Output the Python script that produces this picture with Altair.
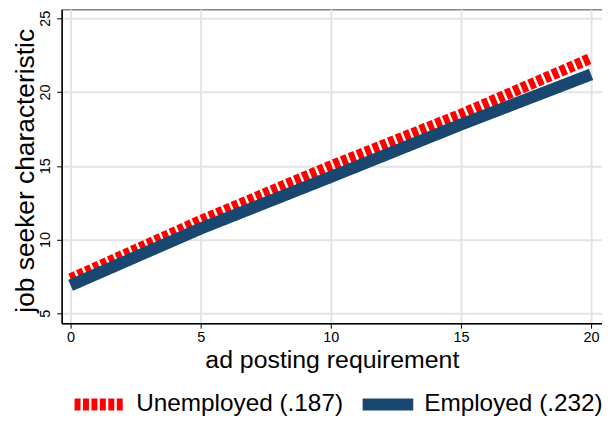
import altair as alt
import pandas as pd

x_vals = [0, 5, 10, 15, 20]
unemployed = [7.35, 11.3, 15.0, 18.5, 22.3]
employed = [6.9, 10.75, 14.25, 17.8, 21.2]
series_names = ["Unemployed (.187)", "Employed (.232)"]
x_ticks = [0, 5, 10, 15, 20]
y_ticks = [5, 10, 15, 20, 25]

df_u = pd.DataFrame({"x": x_vals, "y": unemployed, "series": series_names[0]})
df_e = pd.DataFrame({"x": x_vals, "y": employed, "series": series_names[1]})

FONT = "Liberation Sans"

xs = alt.Scale(domain=[-0.344, 20.42], nice=False, zero=False)
ys = alt.Scale(domain=[4.33, 25.61], nice=False, zero=False)

legend = alt.Legend(
    title=None,
    orient="none",
    legendX=7,
    legendY=366,
    direction="horizontal",
    symbolType="stroke",
    symbolSize=2601,
    symbolStrokeWidth=12,
    labelFontSize=24.5,
    labelFont=FONT,
    labelColor="#000000",
    labelOffset=5,
    columnPadding=-5,
    padding=0,
    labelLimit=400,
)

color = alt.Color(
    "series:N",
    scale=alt.Scale(domain=series_names, range=["#ff0000", "#1a476f"]),
    legend=legend,
)
dash = alt.StrokeDash(
    "series:N",
    scale=alt.Scale(domain=series_names, range=[[6, 2.5], [1, 0]]),
    legend=legend,
)

x_enc = alt.X(
    "x:Q",
    scale=xs,
    axis=alt.Axis(
        values=x_ticks,
        title="ad posting requirement",
        titleFontSize=25,
        titleFont=FONT,
        titleFontWeight="normal",
        titleColor="#000000",
        titleBaseline="alphabetic",
        titleY=45,
        labelFontSize=14.5,
        labelFont=FONT,
        labelColor="#000000",
        labelPadding=2,
        tickSize=5,
        tickColor="#000000",
        domainColor="#000000",
        domainWidth=1.5,
        gridColor="#e3e3e3",
        gridWidth=2,
    ),
)
y_enc = alt.Y(
    "y:Q",
    scale=ys,
    axis=alt.Axis(
        values=y_ticks,
        title="job seeker characteristic",
        titleFontSize=26.5,
        titleFont=FONT,
        titleFontWeight="normal",
        titleColor="#000000",
        titleAngle=270,
        titleAlign="center",
        titleBaseline="alphabetic",
        titleX=-28,
        titleY=162,
        labelFontSize=14.5,
        labelFont=FONT,
        labelColor="#000000",
        labelAngle=270,
        labelAlign="center",
        labelBaseline="bottom",
        labelPadding=4,
        tickSize=5,
        tickColor="#000000",
        domainColor="#000000",
        domainWidth=1.5,
        gridColor="#e3e3e3",
        gridWidth=2,
    ),
)

line_u = alt.Chart(df_u).mark_line(strokeWidth=11, strokeCap="butt").encode(
    x=x_enc, y=y_enc, color=color, strokeDash=dash
)
line_e = alt.Chart(df_e).mark_line(strokeWidth=12, strokeCap="butt").encode(
    x=x_enc, y=y_enc, color=color, strokeDash=dash
)

chart = (
    alt.layer(line_u, line_e)
    .properties(
        width=544,
        height=316,
        autosize=alt.AutoSizeParams(type="none"),
        padding={"left": 54, "top": 0, "right": 0, "bottom": 92},
        background="#ffffff",
    )
    .configure_view(stroke="#444444", strokeWidth=1)
)

chart.save("out.html", embed_options={"renderer": "svg", "actions": False})
